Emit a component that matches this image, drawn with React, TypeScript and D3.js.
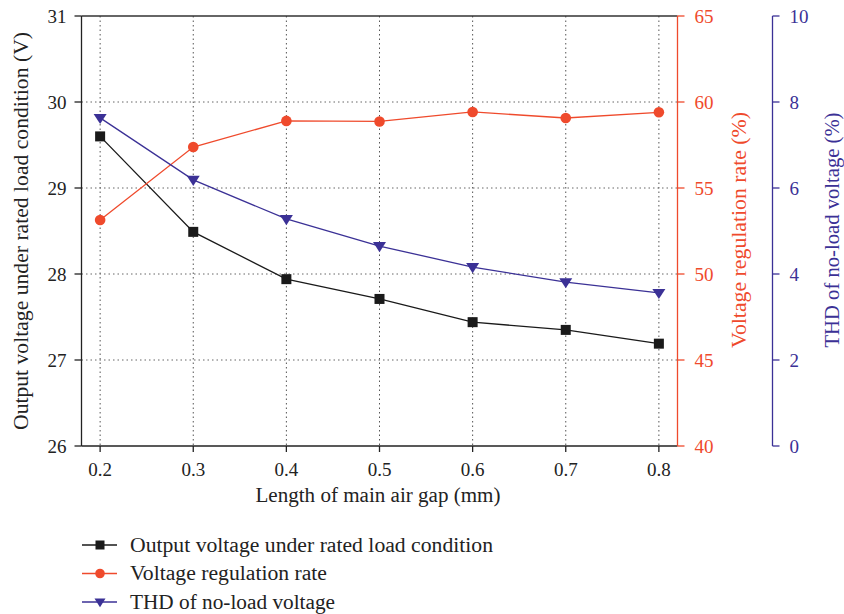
import React from "react";
import * as d3 from "d3";

const gaps = [0.2, 0.3, 0.4, 0.5, 0.6, 0.7, 0.8];
const outputVoltage = [29.6, 28.49, 27.94, 27.71, 27.44, 27.35, 27.19];
const regulationRate = [53.14, 57.38, 58.9, 58.87, 59.42, 59.07, 59.4];
const thdNoLoad = [7.63, 6.19, 5.28, 4.65, 4.16, 3.81, 3.56];

const leftTicks = [26, 27, 28, 29, 30, 31];
const redTicks = [40, 45, 50, 55, 60, 65];
const blueTicks = [0, 2, 4, 6, 8, 10];

const BLACK = "#1a1a1a";
const RED = "#ef4a2c";
const BLUE = "#3b3196";
const FONT = "'Liberation Serif', 'DejaVu Serif', serif";

export default function App() {
  const left = 81.5;
  const right = 677.5;
  const top = 16;
  const bottom = 446;
  const blueAxisX = 772.5;

  const x = d3.scaleLinear().domain([0.18, 0.82]).range([left, right]);
  const yL = d3.scaleLinear().domain([26, 31]).range([bottom, top]);
  const yR = d3.scaleLinear().domain([40, 65]).range([bottom, top]);
  const yB = d3.scaleLinear().domain([0, 10]).range([bottom, top]);

  const mk = (ys: number[], sc: d3.ScaleLinear<number, number>) =>
    d3
      .line<number>()
      .x((_, i) => x(gaps[i]))
      .y((v) => sc(v))(ys) as string;

  const tri = (cx: number, cy: number, s = 6.5) =>
    `M${cx - s},${cy - s * 0.62}L${cx + s},${cy - s * 0.62}L${cx},${cy + s * 0.95}Z`;

  const legend = [
    { label: "Output voltage under rated load condition", color: BLACK, kind: "sq", w: 363 },
    { label: "Voltage regulation rate", color: RED, kind: "ci", w: 197 },
    { label: "THD of no-load voltage", color: BLUE, kind: "tr", w: 205 },
  ];

  return (
    <svg
      width={844}
      height={614}
      style={{ position: "absolute", left: 0, top: 0, display: "block" }}
      fontFamily={FONT}
    >
      <rect width={844} height={614} fill="#fff" />
      {/* dotted grid */}
      {gaps.map((g) => (
        <line key={"gx" + g} x1={x(g)} x2={x(g)} y1={top} y2={bottom} stroke="#555" strokeWidth={1} strokeDasharray="1.5,3" />
      ))}
      {leftTicks.slice(1, -1).map((t) => (
        <line key={"gy" + t} x1={left} x2={right} y1={yL(t)} y2={yL(t)} stroke="#666" strokeWidth={1} strokeDasharray="1.5,3" />
      ))}

      {/* frame */}
      <line x1={left} x2={right} y1={top} y2={top} stroke="#333" strokeWidth={1.5} />
      <line x1={left} x2={right} y1={bottom} y2={bottom} stroke="#222" strokeWidth={1.3} />
      <line x1={left} x2={left} y1={top} y2={bottom} stroke="#222" strokeWidth={1.3} />

      {/* left axis */}
      {leftTicks.map((t) => (
        <g key={"lt" + t}>
          <line x1={left - 7} x2={left} y1={yL(t)} y2={yL(t)} stroke="#222" strokeWidth={1.3} />
          <text x={left - 15} y={yL(t)} dy="0.35em" textAnchor="end" fontSize={19} fill="#222">{t}</text>
        </g>
      ))}
      <text
        transform={`translate(28,231) rotate(-90)`}
        textAnchor="middle"
        fontSize={20}
        fill="#222"
        textLength={398}
        lengthAdjust="spacingAndGlyphs"
      >
        Output voltage under rated load condition (V)
      </text>

      {/* bottom axis */}
      {gaps.map((g) => (
        <g key={"bt" + g}>
          <line x1={x(g)} x2={x(g)} y1={bottom} y2={bottom + 6} stroke="#222" strokeWidth={1.3} />
          <text x={x(g)} y={476} textAnchor="middle" fontSize={19} fill="#222">{g.toFixed(1)}</text>
        </g>
      ))}
      <text x={378} y={502} textAnchor="middle" fontSize={20} fill="#222" textLength={245} lengthAdjust="spacingAndGlyphs">
        Length of main air gap (mm)
      </text>

      {/* red axis */}
      <line x1={right} x2={right} y1={top} y2={bottom} stroke={RED} strokeWidth={1.3} />
      {redTicks.map((t) => (
        <g key={"rt" + t}>
          <line x1={right} x2={right + 7} y1={yR(t)} y2={yR(t)} stroke={RED} strokeWidth={1.3} />
          <text x={right + 17} y={yR(t)} dy="0.35em" fontSize={19} fill={RED}>{t}</text>
        </g>
      ))}
      <text
        transform={`translate(746,230) rotate(-90)`}
        textAnchor="middle"
        fontSize={20}
        fill={RED}
        textLength={236}
        lengthAdjust="spacingAndGlyphs"
      >
        Voltage regulation rate (%)
      </text>

      {/* blue axis */}
      <line x1={blueAxisX} x2={blueAxisX} y1={top} y2={bottom} stroke={BLUE} strokeWidth={1.3} />
      {blueTicks.map((t) => (
        <g key={"bl" + t}>
          <line x1={blueAxisX} x2={blueAxisX + 7} y1={yB(t)} y2={yB(t)} stroke={BLUE} strokeWidth={1.3} />
          <text x={blueAxisX + 17} y={yB(t)} dy="0.35em" fontSize={19} fill={BLUE}>{t}</text>
        </g>
      ))}
      <text
        transform={`translate(839,230) rotate(-90)`}
        textAnchor="middle"
        fontSize={20}
        fill={BLUE}
        textLength={235}
        lengthAdjust="spacingAndGlyphs"
      >
        THD of no-load voltage (%)
      </text>

      {/* series */}
      <path d={mk(outputVoltage, yL)} fill="none" stroke={BLACK} strokeWidth={1.3} />
      <path d={mk(regulationRate, yR)} fill="none" stroke={RED} strokeWidth={1.3} />
      <path d={mk(thdNoLoad, yB)} fill="none" stroke={BLUE} strokeWidth={1.3} />

      {outputVoltage.map((v, i) => (
        <rect key={"s" + i} x={x(gaps[i]) - 5} y={yL(v) - 5} width={10} height={10} fill={BLACK} />
      ))}
      {regulationRate.map((v, i) => (
        <circle key={"c" + i} cx={x(gaps[i])} cy={yR(v)} r={5.3} fill={RED} />
      ))}
      {thdNoLoad.map((v, i) => (
        <path key={"t" + i} d={tri(x(gaps[i]), yB(v))} fill={BLUE} />
      ))}

      {/* legend */}
      {legend.map((l, i) => {
        const ly = 545 + i * 28.5;
        return (
          <g key={l.label}>
            <line x1={82} x2={117} y1={ly} y2={ly} stroke={l.color} strokeWidth={1.3} />
            {l.kind === "sq" && <rect x={95.5} y={ly - 4.5} width={9} height={9} fill={l.color} />}
            {l.kind === "ci" && <circle cx={100} cy={ly} r={4.8} fill={l.color} />}
            {l.kind === "tr" && <path d={tri(100, ly, 5.5)} fill={l.color} />}
            <text x={130} y={ly} dy="0.33em" fontSize={20} fill="#222" textLength={l.w} lengthAdjust="spacingAndGlyphs">
              {l.label}
            </text>
          </g>
        );
      })}
    </svg>
  );
}
